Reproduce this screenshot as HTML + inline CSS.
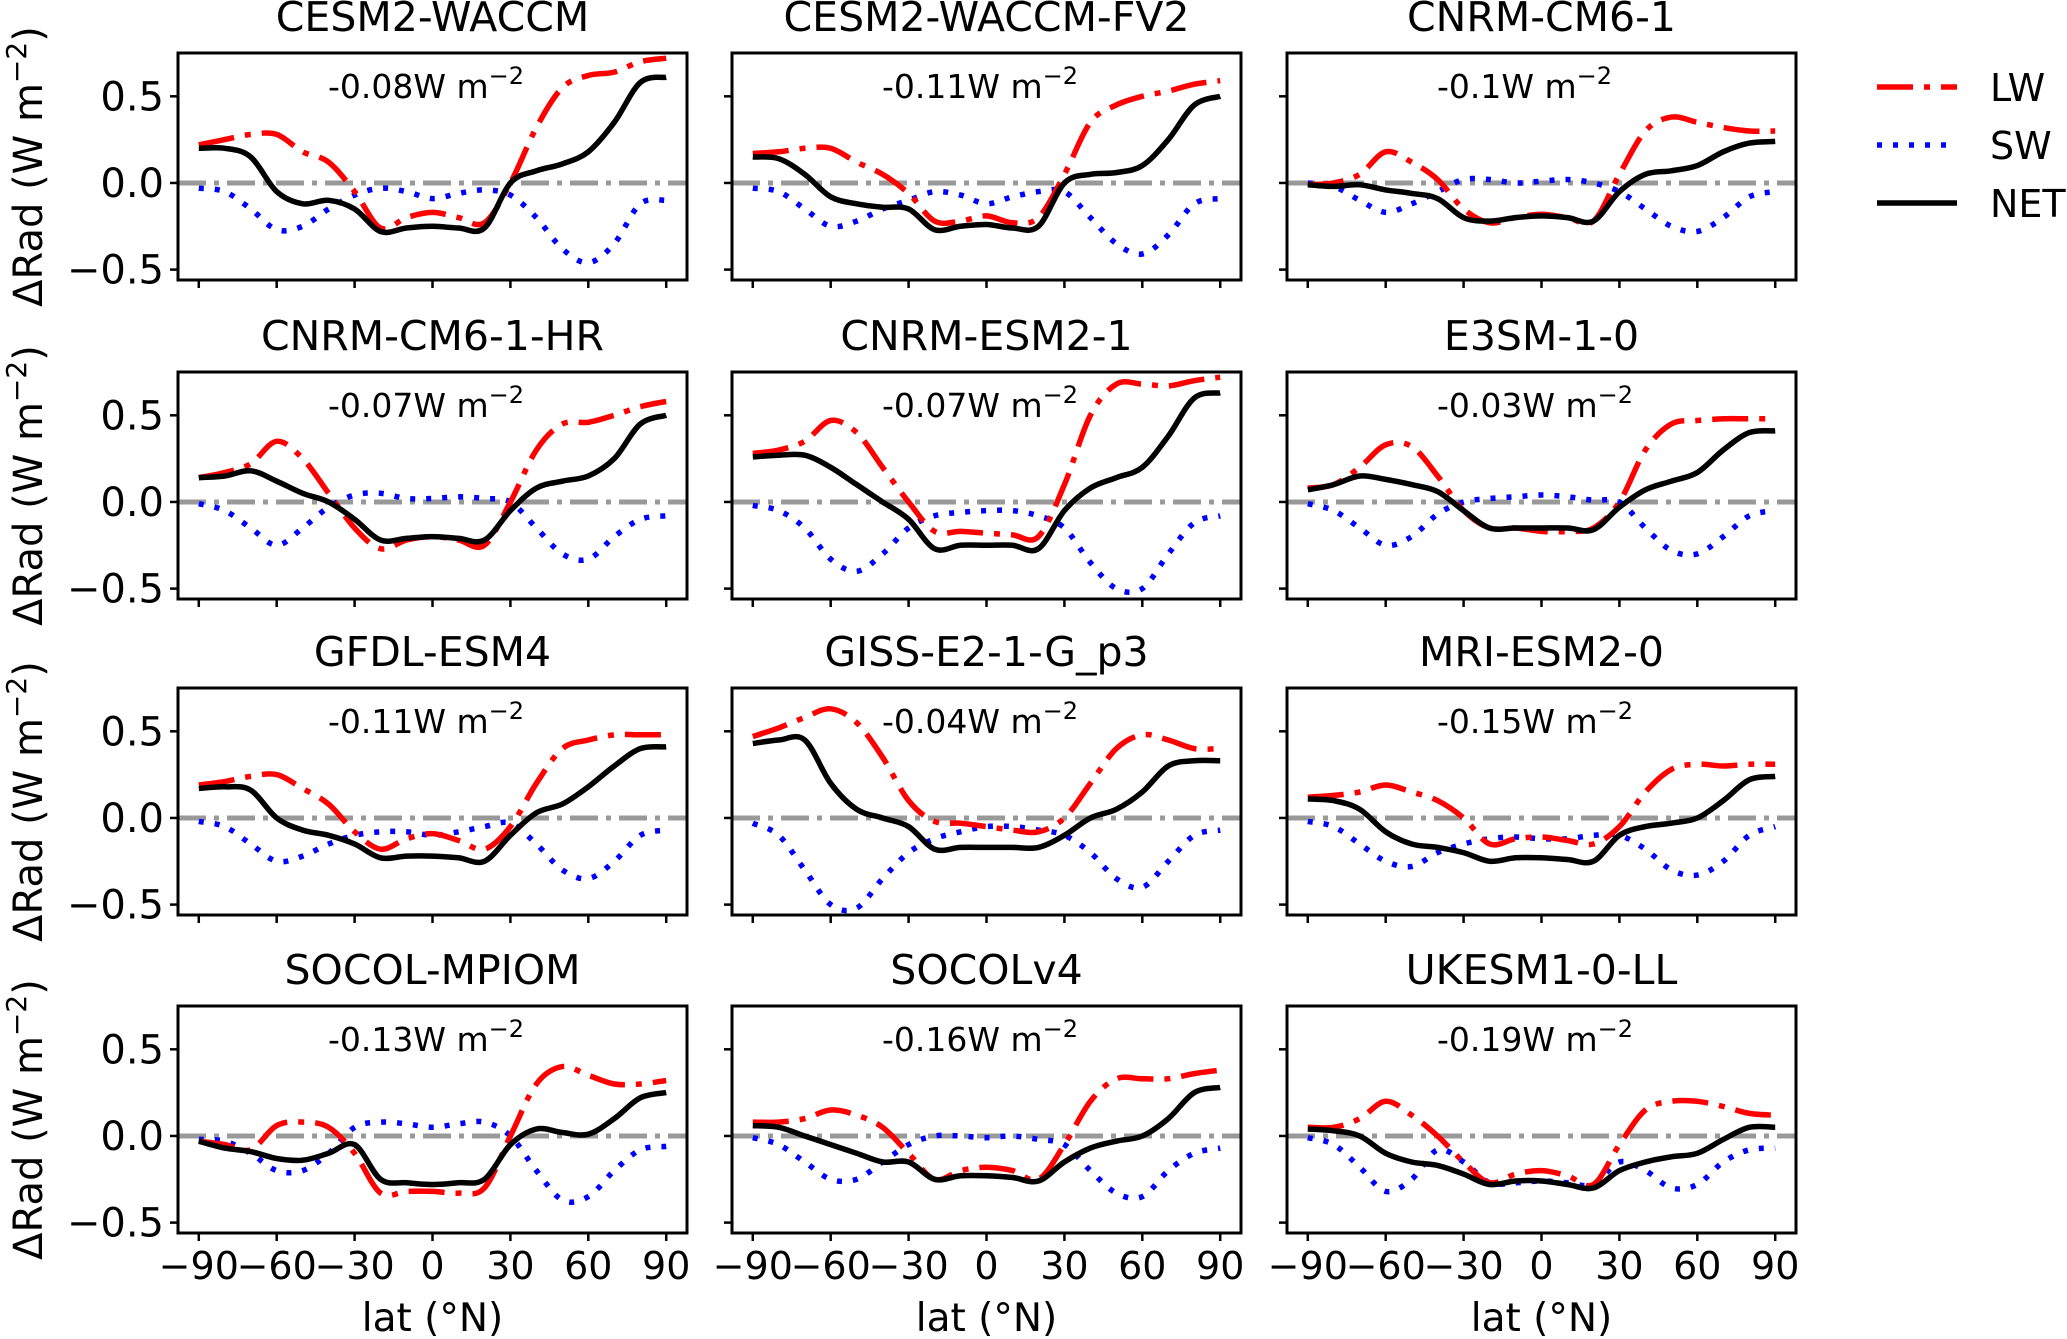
<!DOCTYPE html>
<html><head><meta charset="utf-8"><style>
html,body{margin:0;padding:0;background:#fff}
svg{display:block;font-family:"DejaVu Sans","Liberation Sans",sans-serif}
</style></head><body>
<svg id="chart" width="2067" height="1339" viewBox="0 0 2067 1339" xmlns="http://www.w3.org/2000/svg"></svg>
<script>
const lats = [-90,-80,-70,-60,-50,-40,-30,-20,-10,0,10,20,30,40,50,60,70,80,90];
const models = ["CESM2-WACCM","CESM2-WACCM-FV2","CNRM-CM6-1","CNRM-CM6-1-HR","CNRM-ESM2-1","E3SM-1-0","GFDL-ESM4","GISS-E2-1-G_p3","MRI-ESM2-0","SOCOL-MPIOM","SOCOLv4","UKESM1-0-LL"];
const means = ["-0.08","-0.11","-0.1","-0.07","-0.07","-0.03","-0.11","-0.04","-0.15","-0.13","-0.16","-0.19"];
const lw = [
[0.22,0.25,0.28,0.28,0.18,0.12,-0.05,-0.26,-0.2,-0.17,-0.2,-0.23,0.0,0.32,0.55,0.62,0.64,0.7,0.72],
[0.17,0.18,0.2,0.2,0.12,0.05,-0.06,-0.22,-0.22,-0.19,-0.23,-0.2,0.05,0.35,0.45,0.5,0.53,0.57,0.59],
[-0.01,0.0,0.05,0.18,0.12,0.02,-0.15,-0.23,-0.2,-0.18,-0.2,-0.22,0.05,0.3,0.38,0.35,0.32,0.3,0.3],
[0.14,0.17,0.22,0.35,0.25,0.05,-0.15,-0.27,-0.22,-0.2,-0.22,-0.25,0.0,0.3,0.45,0.46,0.5,0.55,0.58],
[0.28,0.3,0.35,0.47,0.4,0.2,0.0,-0.17,-0.17,-0.18,-0.19,-0.2,0.1,0.5,0.68,0.68,0.67,0.7,0.72],
[0.08,0.1,0.2,0.33,0.32,0.15,-0.05,-0.15,-0.15,-0.17,-0.17,-0.15,0.0,0.3,0.45,0.47,0.48,0.48,0.48],
[0.19,0.21,0.24,0.25,0.17,0.08,-0.08,-0.18,-0.12,-0.09,-0.13,-0.18,-0.05,0.2,0.4,0.45,0.48,0.48,0.48],
[0.47,0.52,0.58,0.63,0.55,0.35,0.1,-0.02,-0.03,-0.05,-0.07,-0.08,0.0,0.2,0.4,0.48,0.45,0.4,0.4],
[0.12,0.13,0.15,0.19,0.15,0.1,0.0,-0.15,-0.12,-0.11,-0.13,-0.15,-0.05,0.15,0.28,0.31,0.3,0.31,0.31],
[-0.03,-0.05,-0.08,0.06,0.08,0.05,-0.1,-0.33,-0.32,-0.32,-0.33,-0.3,0.0,0.3,0.4,0.35,0.3,0.3,0.32],
[0.08,0.08,0.1,0.15,0.12,0.05,-0.1,-0.25,-0.2,-0.18,-0.2,-0.25,-0.05,0.2,0.33,0.33,0.33,0.36,0.38],
[0.05,0.05,0.1,0.2,0.12,0.0,-0.15,-0.27,-0.22,-0.2,-0.23,-0.28,-0.05,0.15,0.2,0.2,0.17,0.13,0.12]];
const sw = [
[-0.03,-0.05,-0.15,-0.27,-0.25,-0.15,-0.07,-0.03,-0.05,-0.09,-0.06,-0.04,-0.07,-0.2,-0.38,-0.46,-0.35,-0.12,-0.1],
[-0.03,-0.05,-0.15,-0.25,-0.22,-0.15,-0.1,-0.05,-0.07,-0.12,-0.08,-0.05,-0.05,-0.2,-0.35,-0.41,-0.3,-0.12,-0.09],
[0.0,-0.02,-0.1,-0.17,-0.12,-0.05,0.02,0.02,0.0,0.01,0.02,0.0,-0.05,-0.15,-0.25,-0.28,-0.2,-0.08,-0.05],
[-0.01,-0.05,-0.15,-0.25,-0.15,-0.03,0.04,0.05,0.02,0.02,0.03,0.02,0.0,-0.15,-0.3,-0.33,-0.2,-0.1,-0.08],
[-0.02,-0.05,-0.15,-0.33,-0.4,-0.3,-0.15,-0.08,-0.06,-0.05,-0.05,-0.08,-0.15,-0.35,-0.5,-0.5,-0.3,-0.12,-0.08],
[-0.01,-0.05,-0.15,-0.25,-0.2,-0.07,0.0,0.02,0.03,0.04,0.03,0.01,0.0,-0.15,-0.28,-0.3,-0.2,-0.08,-0.05],
[-0.02,-0.05,-0.15,-0.25,-0.22,-0.15,-0.1,-0.08,-0.08,-0.1,-0.08,-0.05,-0.03,-0.15,-0.3,-0.35,-0.25,-0.1,-0.07],
[-0.03,-0.1,-0.3,-0.5,-0.52,-0.35,-0.2,-0.12,-0.08,-0.05,-0.05,-0.07,-0.1,-0.2,-0.35,-0.4,-0.25,-0.1,-0.07],
[-0.02,-0.05,-0.15,-0.25,-0.28,-0.2,-0.15,-0.12,-0.11,-0.12,-0.12,-0.1,-0.1,-0.18,-0.3,-0.33,-0.25,-0.1,-0.05],
[-0.02,-0.03,-0.1,-0.2,-0.2,-0.1,0.05,0.08,0.07,0.05,0.07,0.08,0.0,-0.2,-0.37,-0.35,-0.2,-0.08,-0.06],
[-0.01,-0.05,-0.15,-0.25,-0.25,-0.15,-0.05,0.0,0.0,-0.01,0.0,-0.02,-0.05,-0.2,-0.33,-0.35,-0.2,-0.1,-0.07],
[-0.01,-0.05,-0.18,-0.32,-0.25,-0.08,-0.15,-0.27,-0.27,-0.26,-0.27,-0.28,-0.15,-0.2,-0.3,-0.28,-0.15,-0.08,-0.07]];
const net = [
[0.2,0.2,0.15,-0.05,-0.12,-0.1,-0.15,-0.28,-0.26,-0.25,-0.26,-0.26,0.0,0.07,0.11,0.18,0.35,0.58,0.61],
[0.15,0.14,0.05,-0.08,-0.12,-0.14,-0.15,-0.27,-0.25,-0.24,-0.26,-0.25,0.0,0.05,0.06,0.1,0.25,0.45,0.5],
[-0.01,-0.02,-0.01,-0.04,-0.06,-0.09,-0.2,-0.22,-0.2,-0.19,-0.2,-0.22,-0.05,0.05,0.07,0.1,0.18,0.23,0.24],
[0.14,0.15,0.18,0.12,0.05,0.0,-0.1,-0.22,-0.21,-0.2,-0.21,-0.22,-0.05,0.08,0.12,0.15,0.25,0.45,0.5],
[0.26,0.27,0.27,0.2,0.1,0.0,-0.1,-0.27,-0.25,-0.25,-0.25,-0.27,-0.05,0.08,0.14,0.2,0.38,0.6,0.63],
[0.07,0.1,0.15,0.13,0.1,0.06,-0.05,-0.15,-0.15,-0.15,-0.15,-0.16,-0.03,0.07,0.12,0.17,0.3,0.4,0.41],
[0.17,0.18,0.16,0.0,-0.07,-0.1,-0.15,-0.23,-0.22,-0.22,-0.23,-0.25,-0.1,0.03,0.08,0.18,0.3,0.4,0.41],
[0.43,0.45,0.45,0.2,0.05,0.0,-0.05,-0.18,-0.17,-0.17,-0.17,-0.17,-0.1,0.0,0.05,0.15,0.3,0.33,0.33],
[0.11,0.1,0.05,-0.08,-0.15,-0.17,-0.2,-0.25,-0.23,-0.23,-0.24,-0.25,-0.1,-0.05,-0.03,0.0,0.1,0.22,0.24],
[-0.03,-0.07,-0.09,-0.13,-0.14,-0.1,-0.05,-0.25,-0.27,-0.28,-0.27,-0.25,-0.05,0.04,0.02,0.01,0.1,0.22,0.25],
[0.06,0.05,0.0,-0.05,-0.1,-0.15,-0.15,-0.25,-0.23,-0.23,-0.24,-0.26,-0.15,-0.07,-0.03,0.0,0.1,0.25,0.28],
[0.04,0.03,0.0,-0.1,-0.15,-0.17,-0.22,-0.28,-0.26,-0.26,-0.28,-0.3,-0.2,-0.15,-0.12,-0.1,-0.02,0.05,0.05]];
const xTicks = [-90,-60,-30,0,30,60,90];
const yTicks = [-0.5,0.0,0.5];

const NS = "http://www.w3.org/2000/svg";
const svg = document.getElementById('chart');
const colL = [178,732,1287], rowT = [53,372,688,1006], W = 509, H = 227;
const XMIN=-98, XMAX=98, YMIN=-0.56, YMAX=0.75;
function mk(tag, attrs, parent){ const e=document.createElementNS(NS,tag); for(const k in attrs) e.setAttribute(k,attrs[k]); (parent||svg).appendChild(e); return e; }
function smoothPath(pts){
  let d = "M"+pts[0][0].toFixed(1)+","+pts[0][1].toFixed(1);
  for(let i=0;i<pts.length-1;i++){
    const p0=pts[Math.max(0,i-1)], p1=pts[i], p2=pts[i+1], p3=pts[Math.min(pts.length-1,i+2)];
    const c1=[p1[0]+(p2[0]-p0[0])/6, p1[1]+(p2[1]-p0[1])/6];
    const c2=[p2[0]-(p3[0]-p1[0])/6, p2[1]-(p3[1]-p1[1])/6];
    d += " C"+c1[0].toFixed(1)+","+c1[1].toFixed(1)+" "+c2[0].toFixed(1)+","+c2[1].toFixed(1)+" "+p2[0].toFixed(1)+","+p2[1].toFixed(1);
  }
  return d;
}
models.forEach((name, i) => {
  const c=i%3, r=Math.floor(i/3), L=colL[c], T=rowT[r];
  const xs = v => L + (v-XMIN)/(XMAX-XMIN)*W;
  const ys = v => T + (YMAX-v)/(YMAX-YMIN)*H;
  const g = mk('g',{});
  
  
  const t = mk('text',{x:L+W/2,y:T-22,'text-anchor':'middle','font-size':41,fill:'#000'},g);
  t.textContent = name;
  
  
  const z = mk('line',{x1:L,x2:L+W,y1:ys(0),y2:ys(0),stroke:'#999','stroke-width':5,'stroke-dasharray':'28 8 5 8'},g);
  
  
  const series = [[sw[i],'#0000ff','5 11','sw'],[lw[i],'#ff0000','36 11 6 11','lw'],[net[i],'#000','','net']];
  series.forEach(([vals,col,dash,key]) => {
    const pts = lats.map((la,k)=>[xs(la),ys(vals[k])]);
    const p = mk('path',{d:smoothPath(pts),fill:'none',stroke:col,'stroke-width':5.5,'stroke-dasharray':dash||'none','stroke-linejoin':'round'},g);
    
    
  });
  const fr = mk('rect',{x:L,y:T,width:W,height:H,fill:'none',stroke:'#000','stroke-width':3},g);
  
  
  xTicks.forEach(v => {
    mk('line',{x1:xs(v),x2:xs(v),y1:T+H,y2:T+H+8,stroke:'#000','stroke-width':2.5},g);
    if(r===3){
      const tl = mk('text',{x:xs(v),y:T+H+46,'text-anchor':'middle','font-size':38},g);
      tl.textContent = (v<0?"\u2212":"")+Math.abs(v);
      
      
    }
  });
  yTicks.forEach(v => {
    mk('line',{x1:L-8,x2:L,y1:ys(v),y2:ys(v),stroke:'#000','stroke-width':2.5},g);
    if(c===0){
      const tl = mk('text',{x:L-14,y:ys(v)+14,'text-anchor':'end','font-size':40},g);
      tl.textContent = (v<0?"\u2212":"")+Math.abs(v).toFixed(1);
      
      
    }
  });
  const an = mk('text',{x:L+150,y:T+45,'font-size':33},g);
  an.innerHTML = means[i]+'W m<tspan dy="-14" font-size="24">\u22122</tspan>';
  
  
  if(c===0){
    const cy = T+H/2;
    const yl = mk('text',{x:0,y:0,'text-anchor':'middle','font-size':40,transform:'translate(42,'+cy+') rotate(-90)'},g);
    yl.innerHTML = '\u0394Rad (W m<tspan dy="-16" font-size="28">\u22122</tspan><tspan dy="16">)</tspan>';
    
    
  }
  if(r===3){
    const xl = mk('text',{x:L+W/2,y:1331,'text-anchor':'middle','font-size':39},g);
    xl.textContent = 'lat (\u00b0N)';
    
    
  }
});
const leg = mk('g',{});


[['LW','#ff0000','36 11 6 11',87],['SW','#0000ff','5 11',145],['NET','#000','none',203]].forEach(([lab,col,dash,y]) => {
  const e = mk('g',{},leg);
  
  
  mk('line',{x1:1877,x2:1957,y1:y,y2:y,stroke:col,'stroke-width':5.5,'stroke-dasharray':dash},e);
  const t = mk('text',{x:1990,y:y+14,'font-size':38},e);
  t.textContent = lab;
});
</script>
</body></html>
